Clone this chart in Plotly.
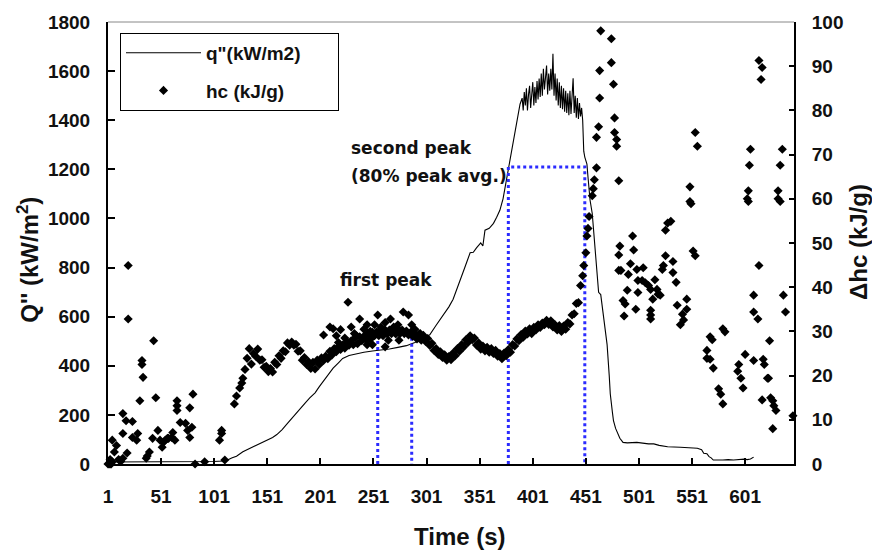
import plotly.graph_objects as go

# ---------------- data ----------------
q_time = [1, 20, 40, 60, 80, 90, 100, 110, 113, 118, 122, 128, 133, 137, 141, 146, 150, 156, 160,
          165, 170, 174, 178, 182, 187, 191, 196, 200, 204, 208, 213, 218, 222, 228, 235, 242, 250,
          258, 266, 274, 282, 290, 297, 304, 310, 317, 322, 326, 330, 333, 337, 342, 345, 348, 352,
          354, 356, 360, 364, 367, 370, 373, 375, 378, 380, 382, 383, 385, 387, 389, 391,
          392, 393, 394, 395, 396, 397, 398, 399, 400, 401, 402, 403, 404, 405, 406, 407, 408, 409,
          410, 411, 412, 413, 414, 415, 416, 417, 418, 419, 420, 421, 422, 423, 424, 425, 426, 427,
          428, 429, 430, 431, 432, 433, 434, 435, 436, 437, 438, 439, 440, 441, 442, 443, 444, 445,
          446, 447, 448, 449, 450, 452, 453, 455, 457, 460, 463, 465, 467, 469, 471, 473, 474, 476,
          477, 479, 481, 483, 486, 490, 499, 502, 505, 510, 515, 520, 528, 535, 540, 548, 556, 560,
          562, 565, 567, 569, 571, 580, 585, 590, 595, 597, 600, 603, 606, 609]
q_flux = [8, 8, 8, 8, 8, 8, 10, 12, 15, 25, 32, 50, 60, 68, 76, 88, 96, 108, 120,
          140, 165, 185, 205, 229, 250, 269, 290, 315, 338, 362, 390, 412, 430, 442, 450, 455, 460,
          463, 468, 475, 482, 495, 510, 526, 565, 606, 640, 671, 715, 751, 800, 860, 862, 880, 900,
          888, 952, 960, 980, 1005, 1033, 1080, 1129, 1193, 1250, 1290, 1330, 1380, 1422, 1465, 1490,
          1440, 1515, 1460, 1530, 1440, 1505, 1540, 1450, 1515, 1555, 1460, 1535, 1470, 1560, 1485, 1570, 1495, 1590,
          1500, 1610, 1525, 1600, 1623, 1505, 1590, 1520, 1610, 1525, 1671, 1500, 1590, 1480, 1570, 1460, 1555, 1450,
          1540, 1445, 1530, 1435, 1520, 1430, 1510, 1420, 1520, 1425, 1510, 1571, 1430, 1500, 1410, 1490, 1405, 1470,
          1415, 1450, 1400, 1274, 1250, 1221, 1169, 1073, 1020, 860, 699, 690, 619, 560, 486, 360, 285, 210,
          177, 145, 125, 105, 88, 86, 88, 86, 84, 82, 82, 76, 70, 70, 68, 66, 64, 58,
          44, 42, 30, 25, 16, 16, 18, 16, 18, 16, 20, 18, 20, 28]

# scattered hc points (early phase, cloud near first peak, post-peak)
hc_time = [1, 2, 3, 4, 5, 3, 5, 9, 7, 15, 19, 15, 15, 18, 24, 20, 20, 24, 29, 28, 31, 33, 33, 34,
           37, 38, 40, 43, 44, 46, 48, 50, 52, 53, 55, 57, 58, 61, 62, 64, 66, 66, 66, 69, 74, 76,
           78, 78, 80, 81, 83, 92, 106, 108, 108, 111, 11, 13, 120, 122, 125, 127, 128,
           204, 210, 213, 216, 220, 224, 227, 230, 233, 238, 242, 245, 248, 252, 255, 258, 262, 267,
           270, 274, 279, 284, 287, 290, 295, 218, 235, 250, 265, 245, 262, 275,
           446, 448, 449, 451, 452, 453, 454, 457, 458, 459, 461, 461, 463, 464, 464, 465,
           475, 475, 477, 478, 478, 480, 480, 482, 482, 482, 483, 495, 496, 484, 491, 493, 499, 505,
           500, 504, 507, 510, 512, 516, 518, 519, 521, 490, 500, 486, 488, 498, 514, 512, 512, 512,
           487, 526, 524, 523, 533, 533, 536, 528, 531, 526, 546, 546, 542, 543, 540, 537, 549, 549,
           550, 554, 556, 552, 554, 568, 570, 565, 565, 568, 571, 580, 582, 576, 578, 580, 595, 594,
           597, 599, 601, 609, 618, 619, 622, 623, 624, 617, 625, 627, 628, 630, 627, 646, 604, 603,
           604, 605, 606, 614, 609, 609, 613, 614, 617, 616, 632, 632, 634, 634, 636, 637, 639]
hc_val = [0, 0, 0, 0, 0.5, 1, 5.4, 4.2, 2.7, 1.3, 2.5, 6.9, 11.4, 9.8, 9.6, 44.9, 32.8, 6.0, 6.9,
          5.4, 14.3, 23.4, 22.5, 19.6, 1.3, 1.8, 2.7, 5.8, 27.9, 15.0, 7.6, 5.4, 3.8, 4.9, 5.4, 5.8,
          5.8, 6.0, 7.1, 5.4, 14.3, 13.2, 12.1, 9.4, 9.2, 7.6, 6.0, 12.7, 8.3, 15.8, 0, 0.5, 5.4,
          6.9, 7.6, 0.9, 1.0, 0.6, 13.6, 15.4, 17.2, 18.3, 19.4,
          29.2, 31.0, 30.6, 29.0, 30.4, 28.5, 36.6, 31.0, 29.5, 32.8, 30.5, 31.5, 30.0, 31.5, 33.7,
          31.0, 32.0, 32.8, 31.0, 31.5, 34.4, 33.7, 31.5, 30.5, 29.5, 27.5, 29.0, 27.0, 28.0, 27.0,
          26.5, 28.0,
          40.4, 42.6, 44.9, 47.8, 51.6, 53.3, 56.0, 60.7, 62.3, 64.3, 67.0, 73.9, 76.3, 82.8, 89.0, 98.0,
          96.2, 90.8, 85.9, 78.3, 75.0, 73.4, 71.9, 64.1, 47.3, 43.8, 49.3, 51.6, 48.4, 43.8, 42.9,
          45.3, 44.0, 44.4, 41.5, 41.5, 41.0, 40.4, 39.5, 41.7, 39.5, 38.4, 38.2, 39.3, 38.8, 37.0,
          36.2, 35.0, 37.3, 34.8, 33.7, 32.8, 33.5, 47.1, 44.9, 44.0, 45.8, 43.3, 41.1, 54.5, 54.9,
          52.9, 37.3, 35.0, 33.9, 32.6, 31.5, 35.9, 62.7, 59.4, 58.9, 75.0, 71.9, 48.2, 47.1, 28.8,
          28.1, 25.7, 23.9, 23.7, 21.7, 30.6, 29.9, 17.0, 15.8, 13.6, 22.5, 21.0, 19.4, 17.2, 24.8,
          23.4, 23.7, 22.5, 19.4, 19.4, 27.9, 14.5, 15.0, 14.3, 13.2, 12.1, 8.0, 10.9, 61.8, 60.0,
          59.4, 67.6, 71.2, 44.9, 38.2, 34.4, 32.8, 91.3, 89.7, 87.0, 61.8, 60.0, 59.4, 67.6, 71.2,
          38.2, 34.4]

# dense hc band (one reading every 2 s)
band_time = [130, 132, 134, 136, 138, 140, 142, 144, 146, 148, 150, 152, 154, 156, 158, 160, 162,
             164, 166, 168, 170, 172, 174, 176, 178, 180, 182, 184, 186, 188, 190, 192, 194, 196,
             198, 200, 202, 204, 206, 208, 210, 212, 214, 216, 218, 220, 222, 224, 226, 228, 230,
             232, 234, 236, 238, 240, 242, 244, 246, 248, 250, 252, 254, 256, 258, 260, 262, 264,
             266, 268, 270, 272, 274, 276, 278, 280, 282, 284, 286, 288, 290, 292, 294, 296, 298,
             300, 302, 304, 306, 308, 310, 312, 314, 316, 318, 320, 322, 324, 326, 328, 330, 332,
             334, 336, 338, 340, 342, 344, 346, 348, 350, 352, 354, 356, 358, 360, 362, 364, 366,
             368, 370, 372, 374, 376, 378, 380, 382, 384, 386, 388, 390, 392, 394, 396, 398, 400,
             402, 404, 406, 408, 410, 412, 414, 416, 418, 420, 422, 424, 426, 428, 430, 432, 434,
             436, 438, 440, 442, 444]
band_hc = [21.4, 23.9, 26.1, 22.6, 25.0, 24.4, 26.0, 23.5, 23.6, 21.9, 22.1, 20.9, 21.6, 20.8,
           23.0, 22.5, 24.5, 23.9, 25.6, 25.4, 27.4, 26.9, 27.6, 26.9, 27.1, 25.5, 25.6, 23.5,
           24.1, 22.5, 23.1, 21.6, 23.0, 21.5, 23.5, 22.5, 24.0, 23.4, 24.4, 23.8, 25.5, 24.7,
           26.1, 25.4, 26.6, 25.9, 26.9, 26.2, 27.6, 26.9, 27.9, 27.0, 28.6, 27.2, 28.8, 27.9,
           28.9, 28.1, 29.6, 28.2, 29.8, 29.0, 29.9, 29.0, 30.4, 29.0, 30.3, 29.4, 30.3, 29.5,
           30.7, 29.4, 30.6, 29.5, 30.3, 29.5, 30.1, 29.2, 29.8, 28.9, 29.5, 28.3, 29.4, 28.0,
           29.1, 27.7, 28.4, 26.8, 27.3, 25.7, 26.1, 24.8, 25.4, 24.1, 24.7, 23.5, 24.3, 23.6,
           25.1, 24.5, 26.1, 25.5, 27.0, 26.5, 28.1, 27.5, 29.0, 28.1, 28.5, 26.9, 27.4, 26.0,
           26.7, 25.6, 26.4, 25.3, 26.1, 25.0, 25.7, 24.4, 25.0, 23.8, 25.1, 24.5, 25.9, 25.3,
           27.0, 26.7, 28.3, 27.9, 29.3, 28.7, 30.1, 29.4, 30.6, 29.5, 30.9, 30.3, 31.5, 30.9,
           31.9, 31.5, 32.5, 31.6, 32.4, 31.0, 31.5, 30.3, 31.3, 30.0, 31.2, 30.5, 32.0, 31.7,
           33.7, 34.0, 36.3, 36.5, 38.8, 39.0]

first_peak_window = [255, 287]
first_peak_avg = 530
second_peak_window = [378, 450]
second_peak_avg = 1210

x_ticks = [1, 51, 101, 151, 201, 251, 301, 351, 401, 451, 501, 551, 601]

# ---------------- figure ----------------
FONT = "Liberation Sans, Arial, sans-serif"
L, R, T, B = 108, 794, 16, 464
W, H = 872, 557


def px(x):
    return (x - L) / (R - L)


def py(y):
    return (B - y) / (B - T)


fig = go.Figure()

fig.add_trace(go.Scatter(
    x=q_time, y=q_flux, mode="lines", name='q"(kW/m2)\u00a0\u00a0\u00a0\u00a0\u00a0\u00a0',
    line=dict(color="black", width=1.1), legendgroup="a"))

fig.add_trace(go.Scatter(
    x=hc_time + band_time, y=hc_val + band_hc, mode="markers", name="hc (kJ/g)", yaxis="y2",
    marker=dict(symbol="diamond", size=7, color="black"), cliponaxis=False, legendgroup="b"))

for win, avg in [(first_peak_window, first_peak_avg), (second_peak_window, second_peak_avg)]:
    fig.add_trace(go.Scatter(
        x=[win[0], win[0], win[1], win[1]], y=[0, avg, avg, 0], mode="lines",
        line=dict(color="#2b2bff", width=3, dash="dot"), showlegend=False))

tickfont = dict(family=FONT, size=19, color="#111", weight="bold")

fig.update_layout(
    width=W, height=H,
    margin=dict(l=L, r=W - R, t=T, b=H - B),
    paper_bgcolor="white", plot_bgcolor="white",
    showlegend=True,
    legend=dict(
        x=px(120), y=py(27), xanchor="left", yanchor="top",
        bgcolor="white", bordercolor="black", borderwidth=1,
        font=dict(family=FONT, size=19, color="#111", weight="bold"),
        itemwidth=75, tracegroupgap=10),
    xaxis=dict(
        range=[1, 647], tickmode="array", tickvals=x_ticks,
        showline=True, linecolor="black", linewidth=2,
        ticks="inside", ticklen=6, tickwidth=1.5, tickcolor="black",
        showgrid=False, zeroline=False, tickfont=tickfont, ticklabelstandoff=14),
    yaxis=dict(
        range=[0, 1800], dtick=200, showline=True, linecolor="black", linewidth=2,
        ticks="inside", ticklen=7, tickwidth=1.5, tickcolor="black",
        showgrid=False, zeroline=False, tickfont=tickfont, ticklabelstandoff=12),
    yaxis2=dict(
        range=[0, 100], dtick=10, overlaying="y", side="right",
        showline=True, linecolor="black", linewidth=2,
        ticks="inside", ticklen=5, tickwidth=1.5, tickcolor="black",
        showgrid=False, zeroline=False, tickfont=tickfont, ticklabelstandoff=12),
)

# gray top border of the plot area
fig.add_shape(type="line", xref="paper", yref="paper", x0=0, x1=1, y0=1, y1=1,
              line=dict(color="#888888", width=1))

title_font = dict(family=FONT, size=24, color="#111", weight="bold")
note_font = dict(family="DejaVu Sans, sans-serif", size=17, color="#111", weight="bold")

annotations = [
    dict(text="Time (s)", x=px(460), y=py(537), font=title_font),
    dict(text="Q'' (kW/m<sup>2</sup>)", x=px(28), y=py(257), textangle=-90, font=title_font),
    dict(text="Δhc (kJ/g)", x=px(858), y=py(239), textangle=-90, font=title_font),
    dict(text="second peak", x=px(349), y=py(144), xanchor="left", font=note_font),
    dict(text="(80% peak avg.)", x=px(349), y=py(172), xanchor="left", font=note_font),
    dict(text="first peak", x=px(338), y=py(277), xanchor="left", font=note_font),
]
for a in annotations:
    a.setdefault("xanchor", "center")
    fig.add_annotation(xref="paper", yref="paper", showarrow=False, yanchor="middle", **a)

fig.write_html("out.html")
